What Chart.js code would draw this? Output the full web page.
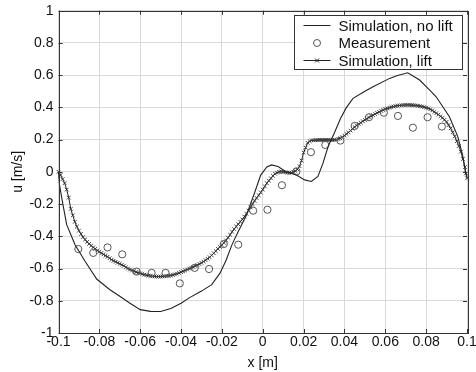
<!DOCTYPE html>
<html>
<head>
<meta charset="utf-8">
<script src="https://cdn.jsdelivr.net/npm/chart.js@4.4.1/dist/chart.umd.min.js"></script>
<style>
  html, body { margin: 0; padding: 0; background: #fff; }
  #wrap { width: 476px; height: 372px; }
</style>
</head>
<body>
<div id="wrap"><canvas id="c" width="476" height="372"></canvas></div>
<script>
// --- data ---
const xTickLabels = ["-0.1", "-0.08", "-0.06", "-0.04", "-0.02", "0", "0.02", "0.04", "0.06", "0.08", "0.1"];
const yTickLabels = ["-1", "-0.8", "-0.6", "-0.4", "-0.2", "0", "0.2", "0.4", "0.6", "0.8", "1"];

const seriesNames = ["Simulation, no lift", "Measurement", "Simulation, lift"];

const noLiftX = [-0.1, -0.0995, -0.0984, -0.096, -0.0919, -0.087, -0.0813, -0.075, -0.07, -0.065, -0.06, -0.055, -0.05, -0.045,
  -0.04, -0.036, -0.03, -0.025, -0.021, -0.018, -0.015, -0.012, -0.008, -0.004, -0.001, 0.002, 0.0043, 0.0075, 0.011, 0.0165,
  0.0205, 0.0238, 0.027, 0.0295, 0.032, 0.035, 0.038, 0.041, 0.0442, 0.05, 0.054, 0.0621, 0.066, 0.071, 0.0768, 0.0815,
  0.0849, 0.0914, 0.0955, 0.098, 0.0993, 0.1];
const noLiftY = [0, -0.08, -0.163, -0.328, -0.452, -0.555, -0.665, -0.73, -0.772, -0.815, -0.855, -0.866, -0.867, -0.848,
  -0.815, -0.782, -0.74, -0.7, -0.63, -0.55, -0.45, -0.37, -0.27, -0.13, -0.02, 0.03, 0.043, 0.033, 0.004, -0.019,
  -0.05, -0.06, -0.029, 0.054, 0.157, 0.24, 0.33, 0.4, 0.456, 0.5, 0.528, 0.58, 0.598, 0.615, 0.57, 0.51,
  0.466, 0.342, 0.219, 0.095, -0.008, -0.03];

const measX = [-0.0903, -0.083, -0.076, -0.0688, -0.0618, -0.0544, -0.0476, -0.0406, -0.0333, -0.0263, -0.0191, -0.012, -0.0047,
  0.0023, 0.0094, 0.0165, 0.0236, 0.0306, 0.038, 0.045, 0.052, 0.0593, 0.0662, 0.0735, 0.0807, 0.0877];
const measY = [-0.479, -0.503, -0.469, -0.512, -0.619, -0.627, -0.627, -0.692, -0.596, -0.603, -0.448, -0.452, -0.241,
  -0.235, -0.083, 0.002, 0.122, 0.167, 0.194, 0.285, 0.339, 0.367, 0.347, 0.274, 0.339, 0.281];

const liftX = [-0.1, -0.099, -0.098, -0.097, -0.096, -0.095, -0.094, -0.093, -0.092, -0.091, -0.09, -0.089, -0.088, -0.087,
  -0.086, -0.085, -0.084, -0.083, -0.082, -0.081, -0.08, -0.079, -0.078, -0.077, -0.076, -0.075, -0.074, -0.073, -0.072,
  -0.071, -0.07, -0.069, -0.068, -0.067, -0.066, -0.065, -0.064, -0.063, -0.062, -0.061, -0.06, -0.059, -0.058, -0.057,
  -0.056, -0.055, -0.054, -0.053, -0.052, -0.051, -0.05, -0.049, -0.048, -0.047, -0.046, -0.045, -0.044, -0.043, -0.042,
  -0.041, -0.04, -0.039, -0.038, -0.037, -0.036, -0.035, -0.034, -0.033, -0.032, -0.031, -0.03, -0.029, -0.028, -0.027,
  -0.026, -0.025, -0.024, -0.023, -0.022, -0.021, -0.02, -0.019, -0.018, -0.017, -0.016, -0.015, -0.014, -0.013, -0.012,
  -0.011, -0.01, -0.009, -0.008, -0.007, -0.006, -0.005, -0.004, -0.003, -0.002, -0.001, 0, 0.001, 0.002, 0.003, 0.004,
  0.005, 0.006, 0.007, 0.008, 0.009, 0.01, 0.011, 0.012, 0.013, 0.014, 0.015, 0.016, 0.017, 0.018, 0.019, 0.02, 0.021,
  0.022, 0.023, 0.024, 0.025, 0.026, 0.027, 0.028, 0.029, 0.03, 0.031, 0.032, 0.033, 0.034, 0.035, 0.036, 0.037, 0.038,
  0.039, 0.04, 0.041, 0.042, 0.043, 0.044, 0.045, 0.046, 0.047, 0.048, 0.049, 0.05, 0.051, 0.052, 0.053, 0.054, 0.055,
  0.056, 0.057, 0.058, 0.059, 0.06, 0.061, 0.062, 0.063, 0.064, 0.065, 0.066, 0.067, 0.068, 0.069, 0.07, 0.071, 0.072,
  0.073, 0.074, 0.075, 0.076, 0.077, 0.078, 0.079, 0.08, 0.081, 0.082, 0.083, 0.084, 0.085, 0.086, 0.087, 0.088, 0.089,
  0.09, 0.091, 0.092, 0.093, 0.094, 0.095, 0.096, 0.097, 0.098, 0.099, 0.0995, 0.1];
const liftY = [0, -0.02, -0.045, -0.07, -0.11, -0.16, -0.23, -0.27, -0.31, -0.34, -0.365, -0.385, -0.405, -0.42,
  -0.435, -0.447, -0.458, -0.468, -0.478, -0.488, -0.496, -0.504, -0.512, -0.52, -0.527, -0.536, -0.545, -0.552, -0.558,
  -0.564, -0.57, -0.577, -0.583, -0.592, -0.6, -0.606, -0.612, -0.617, -0.622, -0.626, -0.63, -0.634, -0.638, -0.641,
  -0.644, -0.646, -0.648, -0.649, -0.65, -0.65, -0.65, -0.649, -0.648, -0.647, -0.645, -0.643, -0.64, -0.636, -0.632,
  -0.627, -0.622, -0.617, -0.612, -0.606, -0.6, -0.595, -0.59, -0.584, -0.578, -0.572, -0.565, -0.557, -0.548, -0.539,
  -0.53, -0.518, -0.505, -0.492, -0.478, -0.466, -0.455, -0.44, -0.425, -0.408, -0.39, -0.372, -0.355, -0.34, -0.325,
  -0.31, -0.295, -0.278, -0.26, -0.24, -0.22, -0.2, -0.18, -0.162, -0.145, -0.128, -0.11, -0.09, -0.07, -0.055, -0.04,
  -0.025, -0.012, -0.005, 0, 0.001, 0, -0.003, -0.005, -0.006, -0.005, 0, 0.005, 0.015, 0.035, 0.07, 0.12, 0.15,
  0.18, 0.19, 0.195, 0.196, 0.197, 0.197, 0.198, 0.198, 0.198, 0.198, 0.198, 0.198, 0.198, 0.198, 0.2, 0.204, 0.208,
  0.216, 0.225, 0.235, 0.245, 0.256, 0.268, 0.278, 0.288, 0.297, 0.305, 0.314, 0.322, 0.33, 0.338, 0.345, 0.352, 0.359,
  0.366, 0.372, 0.378, 0.384, 0.39, 0.394, 0.398, 0.402, 0.405, 0.408, 0.41, 0.412, 0.413, 0.414, 0.415, 0.415, 0.415,
  0.414, 0.413, 0.412, 0.41, 0.408, 0.405, 0.402, 0.398, 0.394, 0.388, 0.381, 0.372, 0.364, 0.355, 0.345, 0.335, 0.323,
  0.31, 0.29, 0.27, 0.245, 0.22, 0.19, 0.16, 0.125, 0.08, 0.03, -0.01, -0.04];

const pts = (xs, ys) => xs.map((x, i) => ({ x, y: ys[i] }));
const FONT = "'Liberation Sans', Arial, Helvetica, sans-serif";
const INK = "#222";

// box round the plot with inward ticks, and a MATLAB-style legend
const framePlugin = {
  id: "frame",
  afterDraw(chart) {
    const { ctx, chartArea: a, scales } = chart;
    ctx.save();
    ctx.strokeStyle = "#333";
    ctx.lineWidth = 1;
    ctx.strokeRect(Math.round(a.left) + 0.5, Math.round(a.top) + 0.5,
      Math.round(a.right - a.left), Math.round(a.bottom - a.top));
    const tl = 4;
    ctx.beginPath();
    scales.x.ticks.forEach(t => {
      const px = Math.round(scales.x.getPixelForValue(t.value)) + 0.5;
      ctx.moveTo(px, a.bottom); ctx.lineTo(px, a.bottom - tl);
      ctx.moveTo(px, a.top); ctx.lineTo(px, a.top + tl);
    });
    scales.y.ticks.forEach(t => {
      const py = Math.round(scales.y.getPixelForValue(t.value)) + 0.5;
      ctx.moveTo(a.left, py); ctx.lineTo(a.left + tl, py);
      ctx.moveTo(a.right, py); ctx.lineTo(a.right - tl, py);
    });
    ctx.stroke();

    // legend
    const bx = Math.round(a.right) - 172.5, by = Math.round(a.top) + 4.5, bw = 168, bh = 54;
    ctx.fillStyle = "#fff";
    ctx.fillRect(bx, by, bw, bh);
    ctx.strokeStyle = "#333";
    ctx.strokeRect(bx, by, bw, bh);
    ctx.font = "15px " + FONT;
    ctx.fillStyle = "#111";
    ctx.textBaseline = "middle";
    const sx0 = bx + 9, sx1 = bx + 36, mx = (sx0 + sx1) / 2;
    chart.data.datasets.forEach((ds, i) => {
      const ry = by + 10 + i * 17.5;
      ctx.strokeStyle = INK;
      ctx.lineWidth = 1;
      if (ds.showLine !== false) {
        ctx.beginPath(); ctx.moveTo(sx0, ry); ctx.lineTo(sx1, ry); ctx.stroke();
      }
      if (ds.pointStyle === "circle") {
        ctx.strokeStyle = "#555";
        ctx.beginPath(); ctx.arc(mx, ry, 3.5, 0, Math.PI * 2); ctx.stroke();
      } else if (ds.pointStyle === "crossRot") {
        ctx.beginPath();
        ctx.moveTo(mx - 2, ry - 2); ctx.lineTo(mx + 2, ry + 2);
        ctx.moveTo(mx - 2, ry + 2); ctx.lineTo(mx + 2, ry - 2);
        ctx.stroke();
      }
      ctx.fillText(ds.label, bx + 44, ry + 1);
    });
    ctx.restore();
  }
};

new Chart(document.getElementById("c"), {
  type: "scatter",
  data: {
    datasets: [
      {
        label: seriesNames[0],
        data: pts(noLiftX, noLiftY),
        showLine: true,
        borderColor: INK,
        borderWidth: 1.1,
        pointRadius: 0,
        pointStyle: false,
        tension: 0,
        clip: false
      },
      {
        label: seriesNames[1],
        data: pts(measX, measY),
        showLine: false,
        pointStyle: "circle",
        pointRadius: 3.6,
        borderColor: "#555",
        backgroundColor: "rgba(0,0,0,0)",
        borderWidth: 1,
        clip: false
      },
      {
        label: seriesNames[2],
        data: pts(liftX, liftY),
        showLine: true,
        borderColor: INK,
        borderWidth: 1,
        pointStyle: "crossRot",
        pointRadius: 2.6,
        pointBorderColor: "#333",
        pointBorderWidth: 0.9,
        tension: 0,
        clip: false
      }
    ]
  },
  options: {
    responsive: false,
    animation: false,
    devicePixelRatio: 1,
    layout: { padding: { left: 0, right: 9, top: 10.7, bottom: 0 } },
    plugins: { legend: { display: false }, tooltip: { enabled: false } },
    scales: {
      x: {
        type: "linear",
        min: -0.1, max: 0.1,
        afterBuildTicks(scale) {
          scale.ticks = xTickLabels.map(s => ({ value: parseFloat(s) }));
        },
        afterFit(scale) {
          scale.height = 39;
          scale.paddingLeft = 0;
          scale.paddingRight = 0;
        },
        ticks: {
          autoSkip: false, maxRotation: 0, padding: 1,
          color: "#111", font: { family: FONT, size: 14 },
          callback: (v, i) => xTickLabels[i]
        },
        grid: { color: "#dadada", drawTicks: false, lineWidth: 1 },
        border: { display: false },
        title: {
          display: true, text: "x [m]", color: "#111",
          font: { family: FONT, size: 14 }, padding: { top: 0, bottom: 0 }
        }
      },
      y: {
        type: "linear",
        min: -1, max: 1,
        afterBuildTicks(scale) {
          scale.ticks = yTickLabels.map(s => ({ value: parseFloat(s) }));
        },
        afterFit(scale) {
          scale.width = 58.5;
          scale.paddingTop = 0;
          scale.paddingBottom = 0;
        },
        ticks: {
          autoSkip: false, padding: 5,
          color: "#111", font: { family: FONT, size: 14 },
          callback: (v, i) => yTickLabels[i]
        },
        grid: { color: "#dadada", drawTicks: false, lineWidth: 1 },
        border: { display: false },
        title: {
          display: true, text: "u [m/s]", color: "#111",
          font: { family: FONT, size: 14 }, padding: { top: 10, bottom: 0 }
        }
      }
    }
  },
  plugins: [framePlugin]
});
</script>
</body>
</html>
